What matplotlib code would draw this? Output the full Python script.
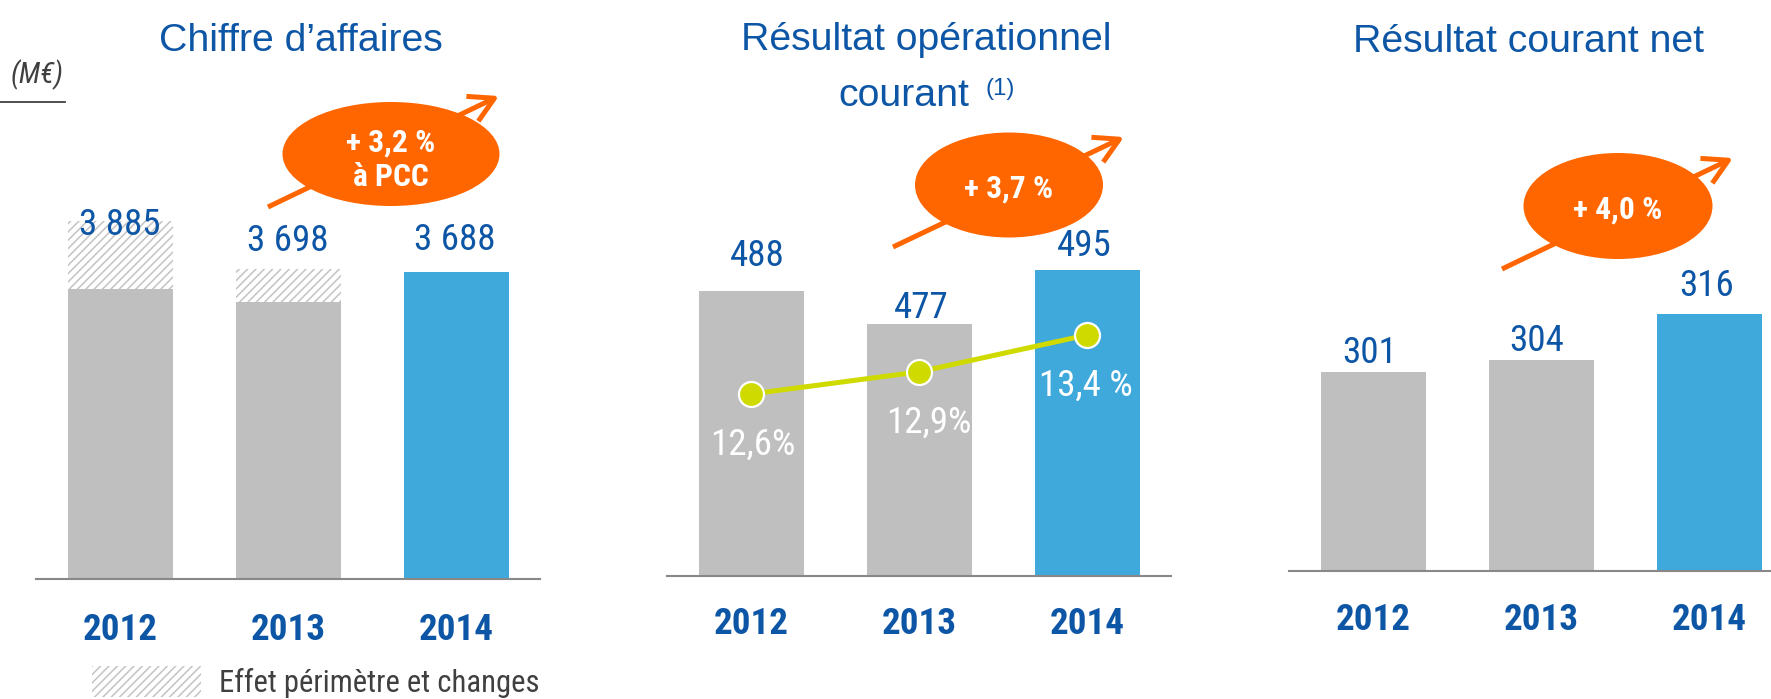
import matplotlib
matplotlib.use('Agg')
import matplotlib.pyplot as plt
from matplotlib import font_manager
from matplotlib.patches import Ellipse, FancyArrowPatch, Patch
from matplotlib.lines import Line2D

# ---------------- data ----------------
years = ['2012', '2013', '2014']
ca_total = [3885, 3698, 3688]          # chiffre d'affaires publié
ca_pcc = [3622, 3574, 3688]            # base hors effet périmètre et changes (estimé)
roc = [488, 477, 495]                  # résultat opérationnel courant
roc_margin = [12.6, 12.9, 13.4]        # marge opérationnelle (%)
roc_margin_labels = ['12,6%', '12,9%', '13,4 %']
rcn = [301, 304, 316]                  # résultat courant net
growth_labels = [['+ 3,2 %', 'à PCC'], ['+ 3,7 %'], ['+ 4,0 %']]
titles = ['Chiffre d\u2019affaires', 'Résultat opérationnel', 'Résultat courant net']
title2_line2 = 'courant'
title2_note = '(1)'
legend_label = 'Effet périmètre et changes'
unit_label = '(M\u20ac)'

# ---------------- style ----------------
W, H, DPI = 1771, 699, 100
GRAY = '#BFBFBF'
BLUE_BAR = '#3FA9DC'
TXT_BLUE = '#0D56A6'
ORANGE = '#FF6600'
LIME = '#CFDA00'
DARK = '#404040'
AXIS_GRAY = '#888888'
HATCH_GRAY = '#C4C4C4'
bar_colors = [GRAY, GRAY, BLUE_BAR]

available = {f.name for f in font_manager.fontManager.ttflist}
narrow_candidates = ['Liberation Sans Narrow', 'Arial Narrow', 'Roboto Condensed',
                     'Noto Sans Condensed', 'Open Sans Condensed']
NARROW = next((n for n in narrow_candidates if n in available), 'Liberation Sans')
REG = 'Liberation Sans' if 'Liberation Sans' in available else 'DejaVu Sans'

plt.rcParams['hatch.linewidth'] = 1.1


def pt(px):
    return px * 72.0 / DPI


fig = plt.figure(figsize=(W / DPI, H / DPI), dpi=DPI)


def add_ax(left, right, base, top=0):
    return fig.add_axes([left / W, (H - base) / H, (right - left) / W, (base - top) / H])


VAL_FS = pt(37)
DIGIT_HALF = 13.2
BAR_W = 0.625
x = list(range(len(years)))


def style_axis(ax, pad_px):
    for s in ['top', 'left', 'right']:
        ax.spines[s].set_visible(False)
    ax.spines['bottom'].set_color(AXIS_GRAY)
    ax.spines['bottom'].set_linewidth(1.5)
    ax.set_yticks([])
    ax.set_xticks(x)
    ax.set_xticklabels(years, fontfamily=NARROW, fontweight='bold',
                       fontsize=VAL_FS, color=TXT_BLUE)
    ax.tick_params(axis='x', length=0, pad=pt(pad_px))
    ax.patch.set_alpha(0)


def value_labels(ax, tops, labels, offs, dxs):
    for i, (t, lab, o, dx) in enumerate(zip(tops, labels, offs, dxs)):
        ax.annotate(lab, xy=(i, t), xytext=(dx, o - DIGIT_HALF),
                    textcoords='offset pixels', ha='center', va='baseline',
                    fontfamily=NARROW, fontsize=VAL_FS, color=TXT_BLUE)


def fmt(v):
    return f'{v:,}'.replace(',', ' ')


# ---------- Panel 1 : Chiffre d'affaires ----------
ax1 = add_ax(36, 540, 579)
ax1.set_xlim(-0.5, 2.5)
ax1.set_ylim(2502, 2502 + 579 / 0.25885)
ax1.bar(x, ca_pcc, width=BAR_W, color=bar_colors, linewidth=0)
ax1.bar(x, [t - p for t, p in zip(ca_total, ca_pcc)], bottom=ca_pcc, width=BAR_W,
        color='white', edgecolor=HATCH_GRAY, hatch='////', linewidth=0)
style_axis(ax1, 32.5)
value_labels(ax1, ca_total, [fmt(v) for v in ca_total], [-1, 32, 35], [0, 0, -1])

# ---------- Panel 2 : Résultat opérationnel courant ----------
ax2 = add_ax(667, 1171, 576)
ax2.set_xlim(-0.5, 2.5)
ax2.set_ylim(393, 393 + 576 / 3.0)
ax2.bar(x, roc, width=BAR_W, color=bar_colors, linewidth=0)
style_axis(ax2, 30.5)
value_labels(ax2, roc, [fmt(v) for v in roc], [38, 19, 27], [6, 2, -3])

ax2b = ax2.twinx()
ax2b.set_ylim(10.132, 10.132 + 576 / 73.75)
ax2b.plot(x, roc_margin, color=LIME, lw=3.6, marker='o', ms=pt(25),
          mfc=LIME, mec='white', mew=1.6, solid_capstyle='round', zorder=3)
ax2b.axis('off')
for i, (m, lab, dx) in enumerate(zip(roc_margin, roc_margin_labels, [2, 10, -1])):
    ax2b.annotate(lab, xy=(i, m), xytext=(dx, -48 - DIGIT_HALF),
                  textcoords='offset pixels', ha='center', va='baseline',
                  fontfamily=NARROW, fontsize=VAL_FS, color='white')

# ---------- Panel 3 : Résultat courant net ----------
ax3 = add_ax(1289, 1771, 571)
ax3.set_xlim(-0.5, -0.5 + 482 / 168)
ax3.set_ylim(249.5, 249.5 + 571 / 3.865)
ax3.bar(x, rcn, width=BAR_W, color=bar_colors, linewidth=0)
style_axis(ax3, 30.5)
value_labels(ax3, rcn, [fmt(v) for v in rcn], [22, 23, 31], [-3, -4, -2])

# ---------- overlay (pixel coordinates) for annotations ----------
ov = fig.add_axes([0, 0, 1, 1], zorder=10)
ov.set_xlim(0, W)
ov.set_ylim(H, 0)
ov.axis('off')

bubbles = [  # (cx, cy, w, h, arrow start, arrow end)
    (391, 154, 217, 104, (268, 207), (499, 96)),
    (1009, 185, 188, 105, (893, 247), (1124, 137)),
    (1618, 206, 189, 106, (1502, 269), (1733, 158)),
]
G_FS = pt(31.5)
for (cx, cy, w, h, a0, a1), lines in zip(bubbles, growth_labels):
    ov.add_patch(FancyArrowPatch(a0, a1, arrowstyle='->,head_length=0.8,head_width=0.45',
                                 mutation_scale=22, lw=3.6, color=ORANGE,
                                 shrinkA=0, shrinkB=0, capstyle='butt'))
    ov.add_patch(Ellipse((cx, cy), w, h, facecolor=ORANGE, edgecolor='none'))
    if len(lines) == 1:
        ys = [cy + 1]
    else:
        ys = [cy - 14, cy + 21]
    for ln, yy in zip(lines, ys):
        ov.text(cx, yy + 11.2, ln, ha='center', va='baseline', color='white',
                fontfamily=NARROW, fontweight='bold', fontsize=G_FS)

TITLE_FS = pt(39.3)
ov.text(301, 51, titles[0], ha='center', va='baseline', color=TXT_BLUE,
        fontfamily=REG, fontsize=TITLE_FS)
ov.text(926, 50, titles[1], ha='center', va='baseline', color=TXT_BLUE,
        fontfamily=REG, fontsize=TITLE_FS)
ov.text(904, 106, title2_line2, ha='center', va='baseline', color=TXT_BLUE,
        fontfamily=REG, fontsize=TITLE_FS)
ov.text(1000, 95, title2_note, ha='center', va='baseline', color=TXT_BLUE,
        fontfamily=REG, fontsize=pt(24))
ov.text(1529, 52, titles[2], ha='center', va='baseline', color=TXT_BLUE,
        fontfamily=REG, fontsize=TITLE_FS)

# unit label with rule
ov.text(37.5, 83, unit_label, ha='center', va='baseline', color=DARK,
        fontfamily=NARROW, fontstyle='italic', fontsize=pt(29))
ov.add_line(Line2D([0, 65], [102, 102], color=DARK, lw=1.3))

# legend
LEG_FS = pt(30.6)
fig.legend(handles=[Patch(facecolor='white', edgecolor=HATCH_GRAY, hatch='////', linewidth=0)],
           labels=[legend_label], loc='lower left', bbox_to_anchor=(92 / W, 1 / H),
           frameon=False, labelcolor=DARK,
           prop={'family': NARROW, 'size': LEG_FS},
           handlelength=109 / 30.6, handleheight=36 / 30.6, handletextpad=18 / 30.6,
           borderpad=0, borderaxespad=0)

fig.savefig('out.png', dpi=DPI)
